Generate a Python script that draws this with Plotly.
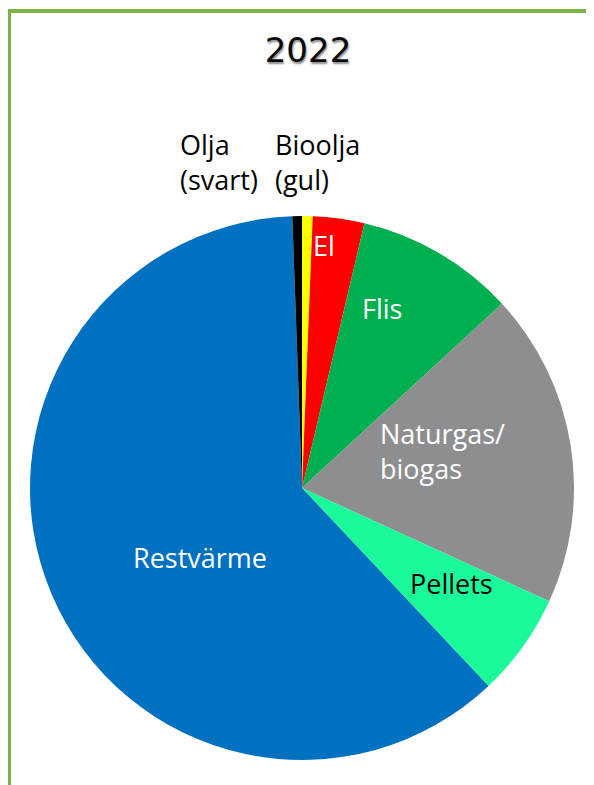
import plotly.graph_objects as go

# shares (%), clockwise from 12 o'clock
kategorier = ["Bioolja (gul)", "El", "Flis", "Naturgas/biogas", "Pellets", "Restvärme", "Olja (svart)"]
andelar = [0.63, 3.06, 9.47, 18.7, 6.14, 61.5, 0.57]
farger = ["#FFFF00", "#FF0000", "#00B050", "#8E8E91", "#1BFA9B", "#0070C0", "#000000"]

# the page body has an 8px margin, so the figure is 8px smaller and page coords are shifted
OFF = 8
W, H = 594 - OFF, 785 - OFF
cx, cy, r = 302 - OFF, 488 - OFF, 272


def px(x):
    return (x - OFF) / W


def py(y):
    return 1 - (y - OFF) / H


fig = go.Figure()
fig.add_trace(go.Pie(
    labels=kategorier,
    values=andelar,
    sort=False,
    direction="clockwise",
    rotation=0,
    marker=dict(colors=farger, line=dict(width=0)),
    textinfo="none",
    hoverinfo="label+percent",
    showlegend=False,
    domain=dict(x=[(cx - r) / W, (cx + r) / W], y=[(H - cy - r) / H, (H - cy + r) / H]),
))

# slice labels, placed like in the original (page pixel coords)
etiketter = [
    ("Olja<br>(svart)", 178, 162, "black"),
    ("Bioolja<br>(gul)", 273, 162, "black"),
    ("El", 311, 246, "white"),
    ("Flis", 360, 308, "white"),
    ("Naturgas/<br>biogas", 378, 451, "white"),
    ("Pellets", 408, 583, "black"),
    ("Restvärme", 131, 557, "white"),
]
annots = []
for txt, x, y, col in etiketter:
    annots.append(dict(
        text=txt, x=px(x), y=py(y), xref="paper", yref="paper",
        xanchor="left", yanchor="middle", align="left", showarrow=False,
        font=dict(family="Open Sans", size=27, color=col),
    ))

gron = "#7DB244"
fig.update_layout(
    width=W, height=H,
    margin=dict(l=0, r=0, t=0, b=0),
    paper_bgcolor="white",
    title=dict(
        text="2022", x=px(308), xanchor="center", y=py(50), yanchor="middle",
        font=dict(family="DejaVu Sans", size=34, color="#0a0a0a",
                  shadow="1px 2px 2px #888888"),
    ),
    annotations=annots,
    shapes=[
        dict(type="line", xref="paper", yref="paper", x0=px(9), x1=px(9), y0=0, y1=py(9),
             line=dict(color=gron, width=4)),
        dict(type="line", xref="paper", yref="paper", x0=0, x1=1, y0=py(11), y1=py(11),
             line=dict(color=gron, width=4)),
    ],
)

fig.write_html("out.html")
